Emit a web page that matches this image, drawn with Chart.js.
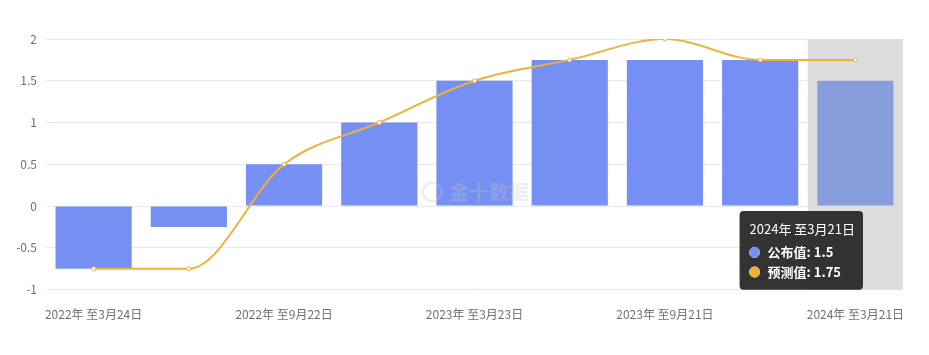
<!DOCTYPE html>
<html>
<head>
<meta charset="utf-8">
<script src="https://cdn.jsdelivr.net/npm/chart.js@4"></script>
<style>
  html, body { margin: 0; padding: 0; background: #fff; }
  #wrap { width: 929px; height: 355px; position: relative; }
</style>
</head>
<body>
<div id="wrap"><canvas id="rateChart"></canvas></div>
<script>
// Rate decisions: published vs forecast
const categories = [
  '2022年 至3月24日', '2022年 至6月16日', '2022年 至9月22日', '2022年 至12月15日',
  '2023年 至3月23日', '2023年 至6月22日', '2023年 至9月21日', '2023年 至12月14日',
  '2024年 至3月21日'
];
const actualValues = [-0.75, -0.25, 0.5, 1.0, 1.5, 1.75, 1.75, 1.75, 1.5];
const forecastValues = [-0.75, -0.75, 0.5, 1.0, 1.5, 1.75, 2.0, 1.75, 1.75];
const yTicks = [-1, -0.5, 0, 0.5, 1, 1.5, 2];
const hoverIndex = 8;

const FONT = "'Noto Sans CJK SC', 'Noto Sans', sans-serif";

// grey band behind the hovered category
const hoverBand = {
  id: 'hoverBand',
  beforeDatasetsDraw(chart) {
    const { ctx, chartArea, scales } = chart;
    const x = scales.x;
    const w = (chartArea.right - chartArea.left) / categories.length;
    const cx = x.getPixelForValue(hoverIndex);
    ctx.save();
    ctx.fillStyle = '#dddddd';
    ctx.fillRect(cx - w / 2, chartArea.top, w, chartArea.bottom - chartArea.top);
    ctx.restore();
  }
};

// faint watermark in the middle
const watermark = {
  id: 'watermark',
  afterDatasetsDraw(chart) {
    const { ctx } = chart;
    ctx.save();
    ctx.globalAlpha = 0.3;
    ctx.strokeStyle = '#c8c8c8';
    ctx.lineWidth = 2.5;
    ctx.beginPath();
    ctx.arc(432, 192, 9, 0, Math.PI * 2);
    ctx.stroke();
    ctx.fillStyle = '#c8c8c8';
    ctx.font = 'bold 20px ' + FONT;
    ctx.textBaseline = 'middle';
    ctx.fillText('金十数据', 449, 192);
    ctx.restore();
  }
};

Chart.Tooltip.positioners.fixedLeft = function(items) {
  if (!items.length) return false;
  return { x: 859, y: 211 };
};

const barColors = actualValues.map((v, i) => i === hoverIndex ? '#879ddc' : '#7590f2');

const chart = new Chart(document.getElementById('rateChart'), {
  data: {
    labels: categories,
    datasets: [
      {
        type: 'line',
        label: '预测值',
        data: forecastValues,
        borderColor: '#f0b13a',
        backgroundColor: '#f0b13a',
        borderWidth: 2,
        cubicInterpolationMode: 'monotone',
        pointRadius: 2,
        pointBorderWidth: 1,
        pointBackgroundColor: '#fff',
        pointBorderColor: '#f0b13a',
        order: 0
      },
      {
        type: 'bar',
        label: '公布值',
        data: actualValues,
        backgroundColor: barColors,
        hoverBackgroundColor: barColors,
        categoryPercentage: 0.8,
        barPercentage: 1,
        order: 1
      }
    ]
  },
  options: {
    responsive: true,
    maintainAspectRatio: false,
    animation: false,
    events: [],
    layout: { padding: { left: 0, right: 26, top: 39, bottom: 23 } },
    scales: {
      x: {
        grid: { display: false },
        border: { display: false },
        ticks: {
          autoSkip: false,
          maxRotation: 0,
          color: '#6e7079',
          font: { family: FONT, size: 12 },
          padding: 10,
          callback: (v, i) => i % 2 === 0 ? categories[i] : ''
        }
      },
      y: {
        min: yTicks[0],
        max: yTicks[yTicks.length - 1],
        afterBuildTicks: axis => { axis.ticks = yTicks.map(v => ({ value: v })); },
        grid: { color: '#e6e9f0', drawTicks: false },
        border: { display: false },
        afterFit: axis => { axis.width = 46; },
        ticks: {
          color: '#6e7079',
          font: { family: FONT, size: 12 },
          padding: 9,
          callback: v => String(v)
        }
      }
    },
    plugins: {
      legend: { display: false },
      tooltip: {
        position: 'fixedLeft',
        xAlign: 'right',
        yAlign: 'top',
        caretSize: 0,
        caretPadding: 0,
        cornerRadius: 4,
        backgroundColor: 'rgba(40,40,40,0.95)',
        padding: { left: 10, right: 8, top: 10, bottom: 10 },
        titleFont: { family: FONT, size: 13, weight: 'normal' },
        titleMarginBottom: 8,
        bodyFont: { family: FONT, size: 13, weight: 'bold' },
        bodySpacing: 4,
        usePointStyle: true,
        boxWidth: 10,
        boxHeight: 10,
        boxPadding: 6,
        itemSort: (a, b) => b.datasetIndex - a.datasetIndex,
        callbacks: {
          label: c => `${c.dataset.label}: ${c.raw}`,
          labelColor: c => ({ borderColor: c.datasetIndex === 1 ? '#7590f2' : '#f0b13a', backgroundColor: c.datasetIndex === 1 ? '#7590f2' : '#f0b13a' }),
          labelPointStyle: () => ({ pointStyle: 'circle', rotation: 0 })
        }
      }
    }
  },
  plugins: [hoverBand, watermark]
});

chart.tooltip.setActiveElements(
  [{ datasetIndex: 1, index: hoverIndex }, { datasetIndex: 0, index: hoverIndex }],
  { x: 855, y: 250 }
);
chart.update();
</script>
</body>
</html>
